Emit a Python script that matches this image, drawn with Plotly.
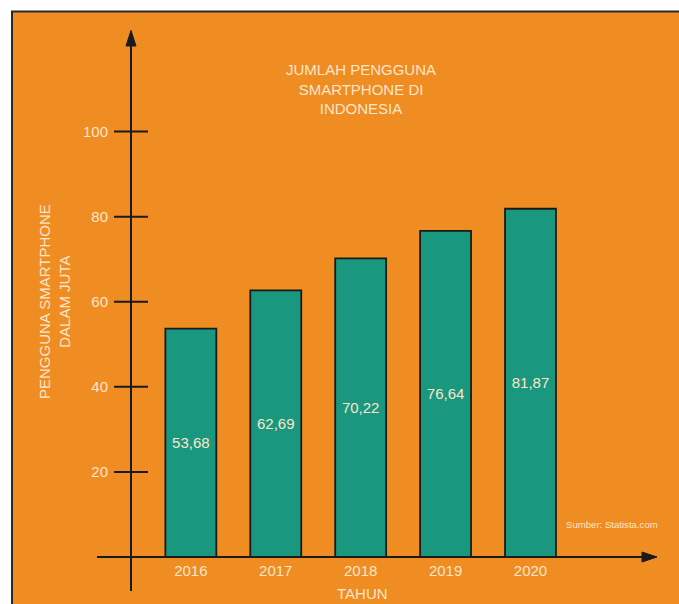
import plotly.graph_objects as go

# ---- data ----
years = ["2016", "2017", "2018", "2019", "2020"]
users = [53.68, 62.69, 70.22, 76.64, 81.87]
y_ticks = [20, 40, 60, 80, 100]

W, H = 679, 604
ORANGE = "#EF8C22"
TEAL = "#1A977F"
CREAM = "#FCE6CB"
DARK = "#1a1a1a"
FONT = "Liberation Sans, Arial, sans-serif"


def px(x):
    return x / W


def py(y):
    return 1 - y / H


fig = go.Figure()
fig.add_trace(go.Bar(
    x=years, y=users, width=0.6,
    marker=dict(color=TEAL, line=dict(color=DARK, width=1.8)),
    texttemplate="%{y:.2f}", textposition="inside", insidetextanchor="middle",
    textfont=dict(color=CREAM, size=15, family=FONT),
    hoverinfo="skip",
))

shapes = []
# orange panel with dark border
shapes.append(dict(type="rect", xref="paper", yref="paper",
                   x0=px(12), x1=px(700), y0=py(640), y1=py(11.5),
                   fillcolor=ORANGE, line=dict(color="#2a2a2a", width=2), layer="below"))
# y axis line
shapes.append(dict(type="line", xref="paper", yref="paper",
                   x0=px(131), x1=px(131), y0=py(591), y1=py(44),
                   line=dict(color=DARK, width=2)))
# y axis arrow head
shapes.append(dict(type="path", xref="paper", yref="paper",
                   path=f"M {px(126)},{py(46)} L {px(136)},{py(46)} L {px(131)},{py(30.5)} Z",
                   fillcolor=DARK, line=dict(color=DARK, width=1)))
# x axis line
shapes.append(dict(type="line", xref="paper", yref="paper",
                   x0=px(97), x1=px(644), y0=py(557), y1=py(557),
                   line=dict(color=DARK, width=2)))
# x axis arrow head
shapes.append(dict(type="path", xref="paper", yref="paper",
                   path=f"M {px(642)},{py(552)} L {px(642)},{py(562)} L {px(657)},{py(557)} Z",
                   fillcolor=DARK, line=dict(color=DARK, width=1)))
# y ticks crossing the axis
for t in y_ticks:
    shapes.append(dict(type="line", xref="paper", yref="y",
                       x0=px(114), x1=px(148), y0=t, y1=t,
                       line=dict(color=DARK, width=2)))

annotations = [
    dict(text="JUMLAH PENGGUNA<br>SMARTPHONE DI<br>INDONESIA", xref="paper", yref="paper",
         x=px(361), y=py(89), xanchor="center", yanchor="middle", showarrow=False,
         font=dict(color=CREAM, size=15, family=FONT)),
    dict(text="PENGGUNA SMARTPHONE<br>DALAM JUTA", xref="paper", yref="paper",
         x=px(54), y=py(302), xanchor="center", yanchor="middle", showarrow=False,
         textangle=-90, font=dict(color=CREAM, size=15, family=FONT)),
    dict(text="TAHUN", xref="paper", yref="paper",
         x=px(362), y=py(593.5), xanchor="center", yanchor="middle", showarrow=False,
         font=dict(color=CREAM, size=15, family=FONT)),
    dict(text="Sumber: Statista.com", xref="paper", yref="paper",
         x=px(612), y=py(524), xanchor="center", yanchor="middle", showarrow=False,
         font=dict(color=CREAM, size=9.6, family=FONT)),
]

# axis scaling: category centre 0 at 190.85px, 84.91px per category; value 0 at 557px, 4.254px per unit
xr = [-190.85 / 84.91, (W - 190.85) / 84.91]
yr = [-(H - 557) / 4.254, 557 / 4.254]

fig.update_layout(
    width=W, height=H, margin=dict(l=0, r=0, t=0, b=0),
    paper_bgcolor="white", plot_bgcolor="rgba(0,0,0,0)",
    separators=",.", showlegend=False,
    shapes=shapes, annotations=annotations,
    font=dict(family=FONT, color=CREAM),
    xaxis=dict(type="category", range=xr, domain=[0, 1], showgrid=False, zeroline=False,
               showline=False, ticks="", anchor="free", position=py(557),
               ticklabelstandoff=3, tickfont=dict(size=15, color=CREAM, family=FONT)),
    yaxis=dict(range=yr, domain=[0, 1], showgrid=False, zeroline=False, showline=False,
               ticks="", tickvals=y_ticks, anchor="free", position=px(131),
               ticklabelstandoff=23, tickfont=dict(size=15, color=CREAM, family=FONT)),
)

fig.write_html("out.html")
